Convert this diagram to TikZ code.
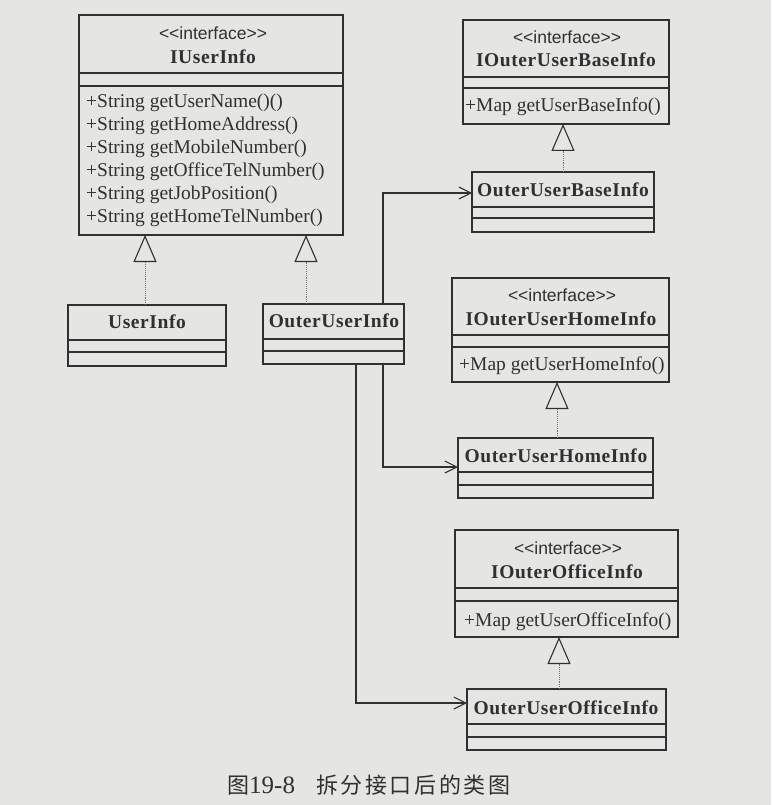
\documentclass[tikz,border=0pt]{standalone}
\usepackage{fontspec}
\setmainfont{Liberation Serif}
\newfontfamily\ifsans{Liberation Sans}
\newfontfamily\cjk{Noto Sans CJK SC}
\usetikzlibrary{arrows.meta}
\definecolor{paper}{RGB}{229,229,227}
\definecolor{ink}{RGB}{48,48,48}
\definecolor{dotc}{RGB}{115,115,115}
% name, left, top, right, bottom, line1, line2
\newcommand\umlcls[7]{%
  \node[umlbox, minimum width={(#4-#2)*1pt}, minimum height={(#5-#3)*1pt}] (#1) at (#2,#3) {};
  \draw[sepline] (#2,#6) -- (#4,#6);
  \draw[sepline] (#2,#7) -- (#4,#7);
}
\begin{document}
\begin{tikzpicture}[x=1pt,y=-1pt,
  umlbox/.style={draw=ink,line width=1.1pt,inner sep=0pt,outer sep=0pt,anchor=north west},
  sepline/.style={draw=ink,line width=1.1pt},
  itext/.style={font=\ifsans\fontsize{17.5}{20}\selectfont,text=ink,inner sep=0pt},
  cname/.style={font=\bfseries\addfontfeature{LetterSpace=3}\fontsize{19.5}{22}\selectfont,text=ink,inner sep=0pt},
  meth/.style={font=\fontsize{19.5}{23}\selectfont,text=ink,inner sep=0pt,anchor=base west},
  realize/.style={draw=dotc,line width=0.9pt,densely dotted,-{Triangle[open,length=27pt,width=23pt,line width=1.1pt,color=ink]}},
  assoc/.style={draw=ink,line width=1.1pt,-{Straight Barb[length=12pt,width=12pt,line width=1.1pt]}}]
\fill[paper] (0,0) rectangle (771,805);
\useasboundingbox (0,0) rectangle (771,805);

% IUserInfo
\umlcls{IUserInfo}{79}{15}{343}{235}{73}{86}
\node[itext] (IUserInfoSt) at (213,33) {<<interface>>};
\node[cname] (IUserInfoName) at (213,57) {IUserInfo};
\node[meth] (m1) at (86,108) {+String getUserName()()};
\node[meth] (m2) at (86,131) {+String getHomeAddress()};
\node[meth] (m3) at (86,154) {+String getMobileNumber()};
\node[meth] (m4) at (86,177) {+String getOfficeTelNumber()};
\node[meth] (m5) at (86,199) {+String getJobPosition()};
\node[meth] (m6) at (86,222) {+String getHomeTelNumber()};

% UserInfo
\umlcls{UserInfo}{68}{305}{226}{366}{340}{352}
\node[cname] (UserInfoName) at (147,322) {UserInfo};

% OuterUserInfo
\umlcls{OuterUserInfo}{263}{304}{404}{364}{339}{351}
\node[cname] (OuterUserInfoName) at (334,321) {OuterUserInfo};

% IOuterUserBaseInfo
\umlcls{IOuterUserBaseInfo}{463}{20}{669}{124}{77}{88}
\node[itext] (ibSt) at (567,37) {<<interface>>};
\node[cname] (ibName) at (566,60) {IOuterUserBaseInfo};
\node[meth] (ibM) at (465,112) {+Map getUserBaseInfo()};

% OuterUserBaseInfo
\umlcls{OuterUserBaseInfo}{472}{172}{654}{232}{207}{218}
\node[cname] (obName) at (563,190) {OuterUserBaseInfo};

% IOuterUserHomeInfo
\umlcls{IOuterUserHomeInfo}{452}{278}{669}{382}{335}{347}
\node[itext] (ihSt) at (562,295) {<<interface>>};
\node[cname] (ihName) at (561,319) {IOuterUserHomeInfo};
\node[meth] (ihM) at (459,370) {+Map getUserHomeInfo()};

% OuterUserHomeInfo
\umlcls{OuterUserHomeInfo}{458}{438}{653}{498}{472}{485}
\node[cname] (ohName) at (556,456) {OuterUserHomeInfo};

% IOuterOfficeInfo
\umlcls{IOuterOfficeInfo}{455}{530}{678}{637}{588}{601}
\node[itext] (ioSt) at (568,548) {<<interface>>};
\node[cname] (ioName) at (567,572) {IOuterOfficeInfo};
\node[meth] (ioM) at (464,626) {+Map getUserOfficeInfo()};

% OuterUserOfficeInfo
\umlcls{OuterUserOfficeInfo}{467}{689}{666}{750}{724}{737}
\node[cname] (ooName) at (566,708) {OuterUserOfficeInfo};

% helper coordinates
\coordinate (xr1) at (145,0);
\coordinate (xr2) at (306,0);
\coordinate (xr3) at (563,0);
\coordinate (xr4) at (557,0);
\coordinate (xr5) at (559,0);
\coordinate (xa) at (383,0);
\coordinate (xb) at (356,0);
\coordinate (ya) at (0,193);
\coordinate (yb) at (0,467);
\coordinate (yc) at (0,703);

% realizations
\draw[realize] (UserInfo.north -| xr1) -- (IUserInfo.south -| xr1);
\draw[realize] (OuterUserInfo.north -| xr2) -- (IUserInfo.south -| xr2);
\draw[realize] (OuterUserBaseInfo.north -| xr3) -- (IOuterUserBaseInfo.south -| xr3);
\draw[realize] (OuterUserHomeInfo.north -| xr4) -- (IOuterUserHomeInfo.south -| xr4);
\draw[realize] (OuterUserOfficeInfo.north -| xr5) -- (IOuterOfficeInfo.south -| xr5);

% associations
\draw[assoc] (OuterUserInfo.north -| xa) |- (OuterUserBaseInfo.west |- ya);
\draw[assoc] (OuterUserInfo.south -| xa) |- (OuterUserHomeInfo.west |- yb);
\draw[assoc] (OuterUserInfo.south -| xb) |- (OuterUserOfficeInfo.west |- yc);

% caption
\node[anchor=west,inner sep=0pt,text=ink,font=\fontsize{22}{24}\selectfont] (cap) at (227,785)
  {{\cjk 图}{\fontsize{25}{26}\selectfont 19-8}\hspace{21pt}{\cjk\addfontfeature{LetterSpace=12}拆分接口后的类图}};
\end{tikzpicture}
\end{document}
